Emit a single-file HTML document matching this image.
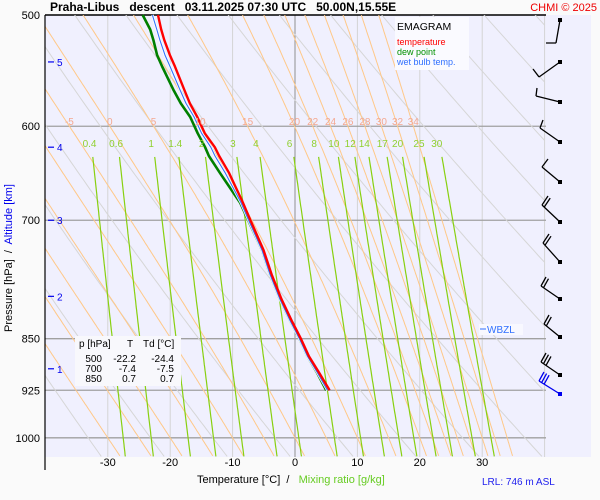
<!DOCTYPE html>
<html><head><meta charset="utf-8"><style>
body{margin:0;background:#fafafa;width:600px;height:500px;overflow:hidden;font-family:"Liberation Sans",sans-serif}
svg{display:block}
</style></head><body>
<svg id="c" width="600" height="500" xmlns="http://www.w3.org/2000/svg" font-family="Liberation Sans, sans-serif">
<rect x="45" y="15" width="546" height="442" fill="#f0f0fe"/>
<g id="grid"></g><g id="data"></g><g id="labels"></g>
</svg>
<script>
// ---- data ----
const presLevels=[925,900,875,850,825,797,765,735,700,680,658,648,630,621,607,591,578,565,544,534,521,512,500];
const tempVals=[5.3,3.7,2.0,0.7,-0.8,-2.4,-4.0,-5.3,-7.4,-8.6,-10.1,-10.8,-12.4,-13.1,-14.7,-15.9,-17.1,-18.0,-19.5,-20.3,-21.2,-21.7,-22.2];
const dewVals=[5.0,3.6,2.0,0.7,-0.8,-2.4,-4.0,-5.3,-7.5,-8.8,-11.0,-12.0,-13.8,-14.4,-15.6,-16.8,-18.3,-19.5,-21.3,-22.1,-22.7,-23.2,-24.4];
const xTicks=[-30,-20,-10,0,10,20,30];
const pTicks=[500,600,700,850,925,1000];
const altTicks=[5,4,3,2,1];
const altPres=[540,621,700,793,893];
const mixRatios=[0.4,0.6,1,1.4,2,3,4,6,8,10,12,14,17,20,25,30];
const thetaW=[-30,-25,-20,-15,-10,-5,0,5,10,15,20,22,24,26,28,30,32,34];
const thetaWLabels=[-5,0,5,10,15,20,22,24,26,28,30,32,34];
const dryTheta=[230,240,250,260,270,280,290,300,310,320,330,340,350,360,370,380,390,400,410,420];
// ---- axes ----
const X=t=>295+6.24*t, Y=p=>15+610*Math.log(p/500);
const NS="http://www.w3.org/2000/svg";
function mk(tag,attrs,parent,txt){const e=document.createElementNS(NS,tag);for(const k in attrs)e.setAttribute(k,attrs[k]);if(txt!==undefined)e.textContent=txt;document.getElementById(parent).appendChild(e);return e;}
function poly(pts){return pts.map(q=>q[0].toFixed(1)+","+q[1].toFixed(1)).join(" ");}
const PB=1031,PT=500;
for(let t=-30;t<=40;t+=10){const l=mk('line',{x1:X(t),x2:X(t),y1:15,y2:457,stroke:t==0?'#909090':'#d4d4d4','stroke-width':1},'grid');

}
pTicks.forEach(p=>{const l=mk('line',{x1:45,x2:546,y1:Y(p),y2:Y(p),stroke:p==500?'#000':'#a0a0a0','stroke-width':p==500?1.5:1.3},'grid');

});
mk('clipPath',{id:'cp'},'grid');
mk('rect',{x:45,y:15,width:500,height:442},'grid');
document.getElementById('cp').appendChild(document.getElementById('grid').lastChild);
dryTheta.forEach(th=>{const pts=[];for(let p=PB;p>=PT-5;p-=5){pts.push([X(th*Math.pow(p/1000,0.286)-273.15),Y(p)]);}
const l=mk('polyline',{points:poly(pts),fill:'none',stroke:'#d6d6d6','stroke-width':1,'clip-path':'url(#cp)'},'grid');

});
function es(t){return 6.112*Math.exp(17.67*t/(t+243.5));}
function grad(T,q){const rs=0.622*es(T-273.15)/(q-es(T-273.15));return (287*T+2.5e6*rs)/(1004+2.5e6*2.5e6*rs*0.622/(287*T*T))/q;}
function moist(tw){const pts=[];let T=tw+273.15;let p=1000;
const up=[];let TT=T;for(let q=1000;q<=PB;q+=2){up.push([q,TT]);TT+=grad(TT,q)*2;}
up.reverse().forEach(a=>pts.push(a));
while(p>=PT-4){pts.push([p,T]);T-=grad(T,p)*2;p-=2;}
return pts;}
const moistAt600={};
thetaW.forEach(tw=>{const m=moist(tw);m.forEach(a=>{if(Math.abs(a[0]-600)<1)moistAt600[tw]=a[1]-273.15;});
const l=mk('polyline',{points:poly(m.map(a=>[X(a[1]-273.15),Y(a[0])])),fill:'none',stroke:'#ffc888','stroke-width':1,'clip-path':'url(#cp)'},'grid');

});
thetaWLabels.forEach(tw=>{const t=mk('text',{x:X(moistAt600[tw]),y:125,'font-size':10,fill:'#f4a890','text-anchor':'middle'},'labels',String(tw));

});
function tOfE(e){const l=Math.log(e/6.112);return 243.5*l/(17.67-l);}
mixRatios.forEach(w=>{const pts=[];for(let p=PB;p>=628;p-=4){pts.push([X(tOfE(w*p/(622+w))),Y(p)]);}
const l=mk('polyline',{points:poly(pts),fill:'none',stroke:'#88d010','stroke-width':1.2,'clip-path':'url(#cp)'},'grid');


const t=mk('text',{x:X(tOfE(w*600/(622+w))),y:147,'font-size':10,fill:'#90d030','text-anchor':'middle'},'labels',String(w));

});
const wetVals=tempVals.map((t,i)=>t-0.3*(t-dewVals[i]));
function series(vals,col,w,name){const l=mk('polyline',{points:poly(presLevels.map((p,i)=>[X(vals[i]),Y(p)])),fill:'none',stroke:col,'stroke-width':w,'stroke-linejoin':'round'},'data');

}
series(dewVals,'#008000',2.6,'dew-point-line');
series(wetVals,'#ffffff',2.6,'wet-bulb-halo');
series(wetVals,'#3070ff',1.1,'wet-bulb-line');
series(tempVals.map((t,i)=>t+0.25),'#ff0000',2.4,'temperature-line');
// wind barbs: [dotY, staffDx, staffDy, barbCount, barbDx, barbDy, color]
const barbs=[[20,-4,23,1,-10,0,'#000'],[62,-21,15,1,-6,-8,'#000'],[102,-24,-6,1,1,-8,'#000'],[142,-20,-14,1,3,-8,'#000'],[182,-18,-15,1,6,-8,'#000'],[222,-18,-17,2,6,-9,'#000'],[262,-17,-19,2,6,-9,'#000'],[299,-19,-13,2,5,-9,'#000'],[337,-16,-13,2,5,-9,'#000'],[375,-19,-13,3,5,-9,'#000'],[394,-21,-13,3,5,-9,'#0000ee']];
barbs.forEach(b=>{const [y,dx,dy,n,bx,by,c]=b;const x=560;const ex=x+dx,ey=y+dy;const L=Math.hypot(dx,dy);const ux=dx/L,uy=dy/L;
let d=`M${x},${y}L${ex},${ey}`;for(let i=0;i<n;i++){const sx=ex-ux*3*i,sy=ey-uy*3*i;d+=`M${sx.toFixed(1)},${sy.toFixed(1)}l${bx},${by}`;}
const g=mk('path',{d:d,stroke:c,'stroke-width':1.3,fill:'none'},'data');


const r=mk('rect',{x:x-2,y:y-2,width:4,height:4,fill:c},'data');

});
xTicks.forEach(t=>{const e=mk('text',{x:X(t),y:466,'font-size':11,'text-anchor':'middle',fill:'#000'},'labels',String(t));

});
pTicks.forEach(p=>{const e=mk('text',{x:40,y:Y(p)+4,'font-size':11,'text-anchor':'end',fill:'#000'},'labels',String(p));

});
altTicks.forEach((a,i)=>{const y=Y(altPres[i]);mk('line',{x1:48,x2:54,y1:y,y2:y,stroke:'#0000ee','stroke-width':1.2},'labels');
const e=mk('text',{x:57,y:y+4,'font-size':10,fill:'#0000ee'},'labels',String(a));

});
</script>
<div style="position:absolute;left:0;top:0;width:600px;height:500px;pointer-events:none">
<svg width="600" height="500" xmlns="http://www.w3.org/2000/svg" font-family="Liberation Sans, sans-serif">
<line x1="45" y1="15" x2="45" y2="470" stroke="#000" stroke-width="1.2"/>
<text x="50" y="11" font-size="12" font-weight="bold" fill="#000" xml:space="preserve">Praha-Libus   descent   03.11.2025 07:30 UTC   50.00N,15.55E</text>
<text x="597" y="11" font-size="11" fill="#ee0000" text-anchor="end">CHMI © 2025</text>
<g>
<rect x="395" y="17" width="74" height="53" fill="#fafaff"/>
<text x="397" y="30" font-size="10.5" fill="#000">EMAGRAM</text>
<text x="397" y="45" font-size="9" fill="#ff0000">temperature</text>
<text x="397" y="55" font-size="9" fill="#009000">dew point</text>
<text x="397" y="65" font-size="9" fill="#3070ff">wet bulb temp.</text>
</g>
<g font-size="10" fill="#000">
<rect x="75" y="336" width="106" height="50" fill="#f8f8fc"/>
<text x="79" y="347">p [hPa]</text><text x="127" y="347">T</text><text x="143" y="347">Td [°C]</text>
<text x="102" y="362" text-anchor="end">500</text><text x="136" y="362" text-anchor="end">-22.2</text><text x="174" y="362" text-anchor="end">-24.4</text>
<text x="102" y="372" text-anchor="end">700</text><text x="136" y="372" text-anchor="end">-7.4</text><text x="174" y="372" text-anchor="end">-7.5</text>
<text x="102" y="382" text-anchor="end">850</text><text x="136" y="382" text-anchor="end">0.7</text><text x="174" y="382" text-anchor="end">0.7</text>
</g>
<g>
<rect x="479" y="324" width="44" height="11" fill="#f8f8ff"/>
<line x1="480" y1="329" x2="486" y2="329" stroke="#3070ff"/>
<text x="487" y="333" font-size="10" fill="#3070ff">WBZL</text>
</g>
<text x="12" y="258" font-size="11" text-anchor="middle" xml:space="preserve" transform="rotate(-90 12 258)"><tspan fill="#000">Pressure [hPa]  /  </tspan><tspan fill="#0000ee">Altitude [km]</tspan></text>
<text x="197" y="483" font-size="11" xml:space="preserve"><tspan fill="#000">Temperature [°C]  /   </tspan><tspan fill="#66cc22">Mixing ratio [g/kg]</tspan></text>
<text x="482" y="485" font-size="10" fill="#2020ee">LRL: 746 m ASL</text>
</svg></div>
</body></html>
